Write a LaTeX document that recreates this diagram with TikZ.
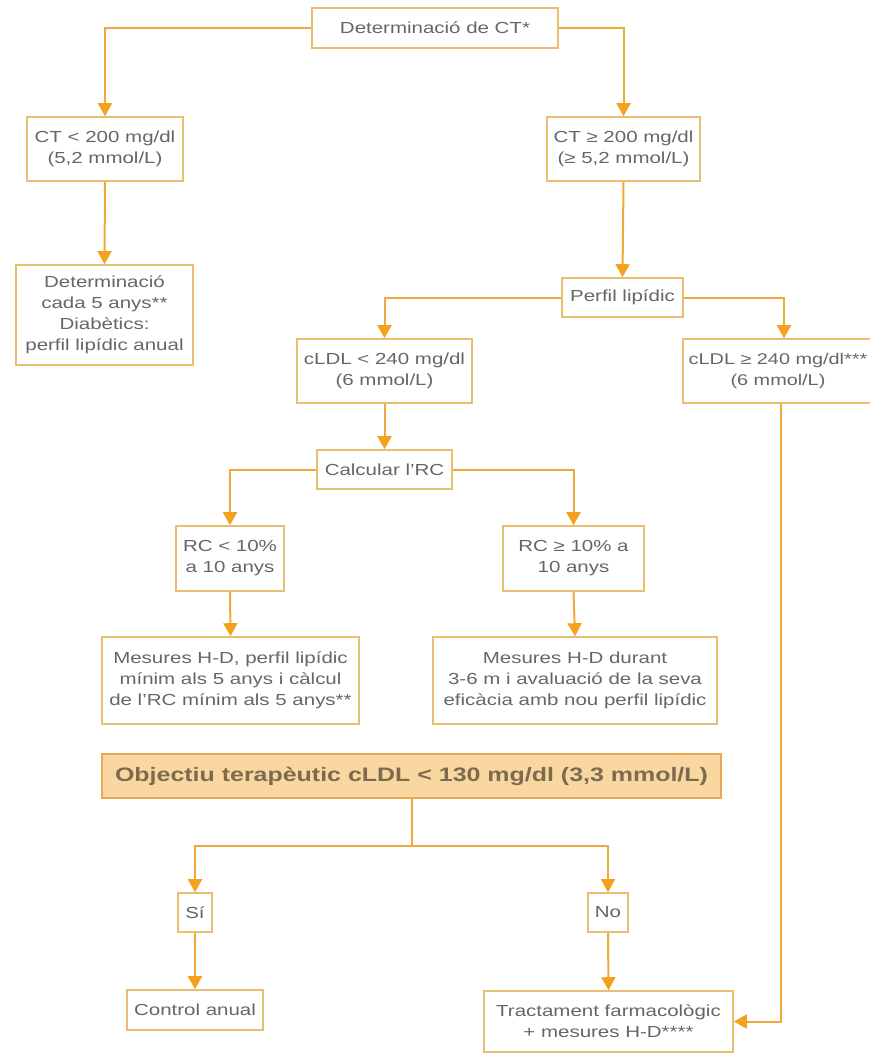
\documentclass[tikz,border=0pt]{standalone}
\usepackage{fontspec}
\setmainfont{Liberation Sans}[FakeStretch=1.28]
\usetikzlibrary{arrows.meta}
\definecolor{lnc}{HTML}{F0AA3C}
\definecolor{bdc}{HTML}{E8BE70}
\definecolor{ahc}{HTML}{F4A21E}
\definecolor{txc}{HTML}{666666}
\definecolor{obfill}{HTML}{F9D7A0}
\definecolor{obbord}{HTML}{E8AA50}
\definecolor{obtext}{HTML}{7D6B4F}
\tikzset{
  box/.style={draw=bdc, line width=1.6pt, fill=white, text=txc,
    font=\fontsize{16}{21}\selectfont, align=center, inner sep=0pt},
  objbox/.style={draw=obbord, line width=1.6pt, fill=obfill, text=obtext,
    font=\fontsize{19.5}{24}\selectfont\bfseries, align=center, inner sep=0pt},
  conn/.style={draw=lnc, line width=2pt},
  arr/.style={draw=lnc, line width=2pt, -{Triangle[width=14pt,length=13pt,color=ahc]}},
}
\begin{document}
\begin{tikzpicture}[x=1pt,y=-1pt]
\useasboundingbox (0,0) rectangle (870,1054);
\clip (0,0) rectangle (870,1054);
\fill[white] (0,0) rectangle (870,1054);

\node[box, minimum width=246pt, minimum height=40pt] (top) at (435,28) {Determinació de CT*};
\node[box, minimum width=156pt, minimum height=64pt] (lt) at (105,149) {CT < 200 mg/dl\\(5,2 mmol/L)};
\node[box, minimum width=153pt, minimum height=64pt] (rt) at (623.5,149) {CT ≥ 200 mg/dl\\(≥ 5,2 mmol/L)};
\node[box, minimum width=177pt, minimum height=100pt] (det) at (104.5,315) {Determinació\\cada 5 anys**\\Diabètics:\\perfil lipídic anual};
\node[box, minimum width=121pt, minimum height=39pt] (per) at (622.5,297.5) {Perfil lipídic};
\node[box, minimum width=175pt, minimum height=64pt] (cla) at (384.5,371) {cLDL < 240 mg/dl\\(6 mmol/L)};
\node[box, minimum width=190pt, minimum height=64pt, font=\fontsize{15.5}{21}\selectfont] (clb) at (778,371) {cLDL ≥ 240 mg/dl***\\(6 mmol/L)};
\node[box, minimum width=135pt, minimum height=39pt] (calc) at (384.5,469.5) {Calcular l'RC};
\node[box, minimum width=108pt, minimum height=65pt] (rca) at (230,558.5) {RC < 10\%\\a 10 anys};
\node[box, minimum width=141pt, minimum height=65pt] (rcb) at (573.5,558.5) {RC ≥ 10\% a\\10 anys};
\node[box, minimum width=257pt, minimum height=87pt] (mea) at (230.5,680.5) {Mesures H-D, perfil lipídic\\mínim als 5 anys i càlcul\\de l'RC mínim als 5 anys**};
\node[box, minimum width=284pt, minimum height=87pt] (meb) at (575,680.5) {Mesures H-D durant\\3-6 m i avaluació de la seva\\eficàcia amb nou perfil lipídic};
\node[objbox, minimum width=619pt, minimum height=44pt] (obj) at (411.5,776) {Objectiu terapèutic cLDL < 130 mg/dl (3,3 mmol/L)};
\node[box, minimum width=34pt, minimum height=39pt] (si) at (195,912.5) {Sí};
\node[box, minimum width=40pt, minimum height=39pt] (no) at (608,912.5) {No};
\node[box, minimum width=136pt, minimum height=40pt] (ctl) at (195,1010) {Control anual};
\node[box, minimum width=249pt, minimum height=61pt] (tr) at (608.5,1021.5) {Tractament farmacològic\\+ mesures H-D****};

\coordinate (jn) at (411.5,846);
\coordinate (rv) at (781,1021.5);
\coordinate (cbin) at (784,300);

\draw[arr] (top.west) -| (lt.north);
\draw[arr] (top.east) -| (rt.north);
\draw[arr] (lt.south) -- (det.north);
\draw[arr] (rt.south) -- (per.north);
\draw[arr] (per.west) -| (cla.north);
\draw[arr] (per.east) -| (cbin |- clb.north);
\draw[arr] (cla.south) -- (calc.north);
\draw[arr] (calc.west) -| (rca.north);
\draw[arr] (calc.east) -| (rcb.north);
\draw[arr] (rca.south) -- (mea.north);
\draw[arr] (rcb.south) -- (meb.north);
\draw[conn] (obj.south) -- (jn);
\draw[arr] (jn) -| (si.north);
\draw[arr] (jn) -| (no.north);
\draw[arr] (si.south) -- (ctl.north);
\draw[arr] (no.south) -- (tr.north);
\draw[arr] (clb.south -| rv) |- (tr.east);
\end{tikzpicture}
\end{document}
